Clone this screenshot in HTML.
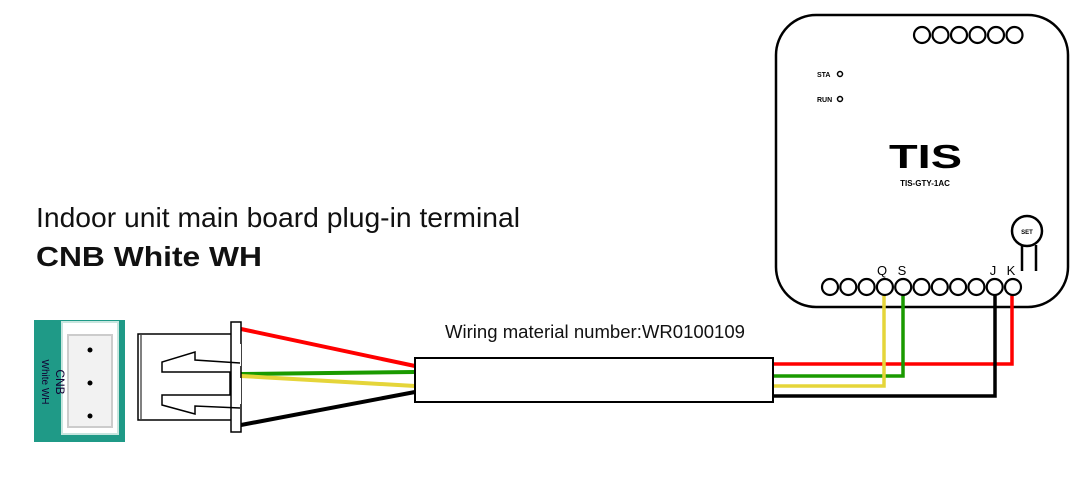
<!DOCTYPE html>
<html><head><style>
body{margin:0;background:#fff;width:1080px;height:498px;overflow:hidden}
svg{display:block}
text{font-family:"Liberation Sans",sans-serif}
</style></head><body>
<svg width="1080" height="498" viewBox="0 0 1080 498">
<text x="36" y="227" font-size="28" fill="#111" textLength="484" lengthAdjust="spacingAndGlyphs">Indoor unit main board plug-in terminal</text>
<text x="36" y="266" font-size="28" font-weight="bold" fill="#111" textLength="226" lengthAdjust="spacingAndGlyphs">CNB White WH</text>
<text x="445" y="338" font-size="18" fill="#111" textLength="300" lengthAdjust="spacingAndGlyphs">Wiring material number:WR0100109</text>
<!-- device -->
<rect x="776" y="15" width="292" height="292" rx="40" fill="#fff" stroke="#000" stroke-width="2.5"/>
<g fill="#fff" stroke="#000" stroke-width="2.2">
<circle cx="922" cy="35" r="8"/><circle cx="940.5" cy="35" r="8"/><circle cx="959" cy="35" r="8"/><circle cx="977.5" cy="35" r="8"/><circle cx="996" cy="35" r="8"/><circle cx="1014.5" cy="35" r="8"/>
</g>
<text x="817" y="77" font-size="7" font-weight="bold">STA</text>
<text x="817" y="102" font-size="7" font-weight="bold">RUN</text>
<circle cx="840" cy="74" r="2.5" fill="none" stroke="#000" stroke-width="1.5"/>
<circle cx="840" cy="99" r="2.5" fill="none" stroke="#000" stroke-width="1.5"/>
<text x="889" y="168" font-size="33" font-weight="900" textLength="73" lengthAdjust="spacingAndGlyphs">TIS</text>
<text x="925" y="186" font-size="8" font-weight="bold" text-anchor="middle">TIS-GTY-1AC</text>
<circle cx="1027" cy="231" r="15" fill="#fff" stroke="#000" stroke-width="2.5"/>
<text x="1027" y="234" font-size="6" font-weight="bold" text-anchor="middle">SET</text>
<path d="M1022 245V271M1036 245V271" stroke="#000" stroke-width="2.5"/>
<text x="882" y="275" font-size="13" text-anchor="middle">Q</text>
<text x="902" y="275" font-size="13" text-anchor="middle">S</text>
<text x="993" y="275" font-size="13" text-anchor="middle">J</text>
<text x="1011" y="275" font-size="13" text-anchor="middle">K</text>
<!-- wires right -->
<g fill="none" stroke-width="3.5">
<path d="M773 364H1012V294" stroke="#f00"/>
<path d="M773 376H903V294" stroke="#1a9a00"/>
<path d="M773 386H884V294" stroke="#e5d53a"/>
<path d="M773 396H995V294" stroke="#000"/>
</g>
<g fill="#fff" stroke="#000" stroke-width="2.2">
<circle cx="830" cy="287" r="8"/><circle cx="848.3" cy="287" r="8"/><circle cx="866.6" cy="287" r="8"/><circle cx="884.9" cy="287" r="8"/><circle cx="903.2" cy="287" r="8"/><circle cx="921.5" cy="287" r="8"/><circle cx="939.8" cy="287" r="8"/><circle cx="958.1" cy="287" r="8"/><circle cx="976.4" cy="287" r="8"/><circle cx="994.7" cy="287" r="8"/><circle cx="1013" cy="287" r="8"/>
</g>
<!-- left wires -->
<g fill="none" stroke-width="4">
<path d="M241 329L415 366" stroke="#f00"/>
<path d="M241 374L415 372" stroke="#1a9a00"/>
<path d="M241 376L415 386" stroke="#e5d53a"/>
<path d="M241 425L415 392" stroke="#000"/>
</g>
<rect x="415" y="358" width="358" height="44" fill="#fff" stroke="#000" stroke-width="2"/>
<!-- green connector -->
<rect x="34" y="320" width="91" height="122" fill="#1f9a87"/>
<rect x="62" y="322" width="56" height="112" fill="#fff" stroke="#c8e6df" stroke-width="2"/>
<rect x="68" y="335" width="44" height="92" fill="#f2f2f2" stroke="#ccc" stroke-width="2"/>
<circle cx="90" cy="350" r="2.5" fill="#000"/><circle cx="90" cy="383" r="2.5" fill="#000"/><circle cx="90" cy="416" r="2.5" fill="#000"/>
<text transform="translate(56,382) rotate(90)" font-size="12" text-anchor="middle" fill="#103">CNB</text>
<text transform="translate(42,382) rotate(90)" font-size="10" text-anchor="middle" fill="#103">White WH</text>
<!-- plug -->
<rect x="138" y="334" width="102" height="86" fill="#fff" stroke="#000" stroke-width="1.5"/>
<line x1="141" y1="335" x2="141" y2="419" stroke="#000" stroke-width="1"/>
<rect x="231" y="322" width="10" height="110" fill="#fff" stroke="#000" stroke-width="1.5"/>
<path d="M240 344V366M240 378V404" stroke="#fff" stroke-width="2"/>
<path d="M240 363L195 360V352L162 362V372H230V395H162V405L195 414V406L240 408" fill="none" stroke="#000" stroke-width="1.5"/>
</svg>
</body></html>
